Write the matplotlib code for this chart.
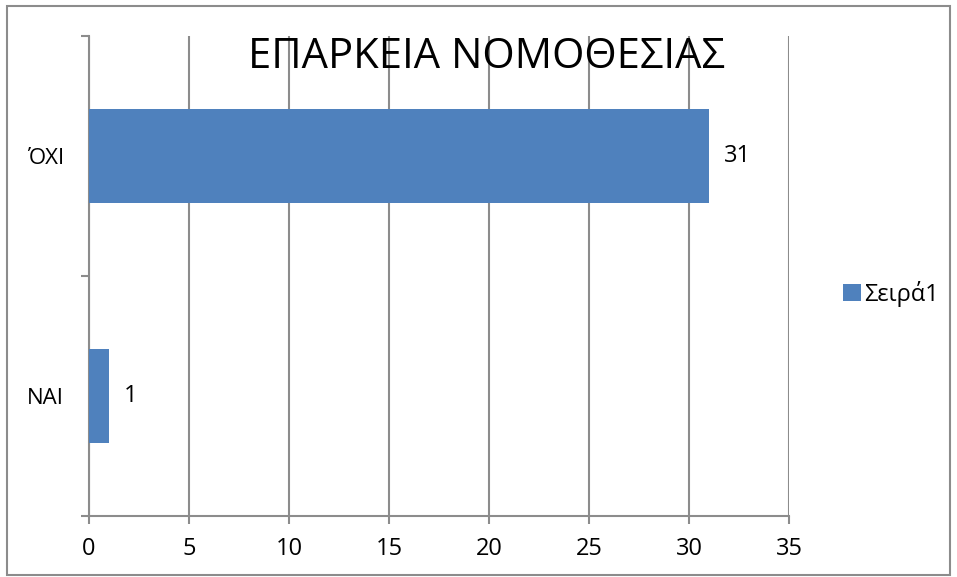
import matplotlib.pyplot as plt
from matplotlib.patches import Rectangle

categories = ["ΝΑΙ", "ΌΧΙ"]
values = [1, 31]
series_name = "Σειρά1"
title = "ΕΠΑΡΚΕΙΑ ΝΟΜΟΘΕΣΙΑΣ"
xticks = [0, 5, 10, 15, 20, 25, 30, 35]

plt.rcParams['font.family'] = ['Open Sans', 'DejaVu Sans']

W, H = 957, 577
fig = plt.figure(figsize=(W / 100, H / 100), dpi=100)
ax = fig.add_axes([89 / W, 1 - 516 / H, (789 - 89) / W, (516 - 36) / H])

grey = "#8c8c8c"
bar_color = "#4f81bd"

pos = range(len(categories))
bars = ax.barh(pos, values, height=0.395, color=bar_color, label=series_name, zorder=3)

ax.set_xlim(0, 35)
ax.set_ylim(-0.5, 1.5)
ax.set_xticks(xticks)
ax.set_yticks(list(pos))
ax.set_yticklabels(categories)
ax.set_yticks([-0.5, 0.5, 1.5], minor=True)

ax.xaxis.grid(True, color=grey, linewidth=1.5, zorder=0)
ax.set_axisbelow(True)

for s in ["top", "right"]:
    ax.spines[s].set_visible(False)
for s in ["left", "bottom"]:
    ax.spines[s].set_color(grey)
    ax.spines[s].set_linewidth(1.5)

ax.tick_params(axis="x", length=6, width=1.5, color=grey, pad=9, labelsize=17)
ax.tick_params(axis="y", which="major", length=0, pad=18, labelsize=16)
ax.tick_params(axis="y", which="minor", length=6, width=1.5, color=grey)

for b, v in zip(bars, values):
    ax.text(b.get_width() + 0.75, b.get_y() + b.get_height() / 2, str(v),
            va="center", ha="left", fontsize=17)

fig.text(486 / W, 1 - 57 / H, title, ha="center", va="center", fontsize=30)

ax.legend(loc="center left", bbox_to_anchor=(831 / W, 1 - 294 / H),
          bbox_transform=fig.transFigure, frameon=False, fontsize=17,
          handlelength=0.75, handleheight=0.75, handletextpad=0.15, borderpad=0)

fig.patches.append(Rectangle((7 / W, 2 / H), (950 - 7) / W, (571 - 2) / H,
                             transform=fig.transFigure, fill=False,
                             edgecolor=grey, linewidth=1.5))

fig.savefig("out.png", dpi=100)
